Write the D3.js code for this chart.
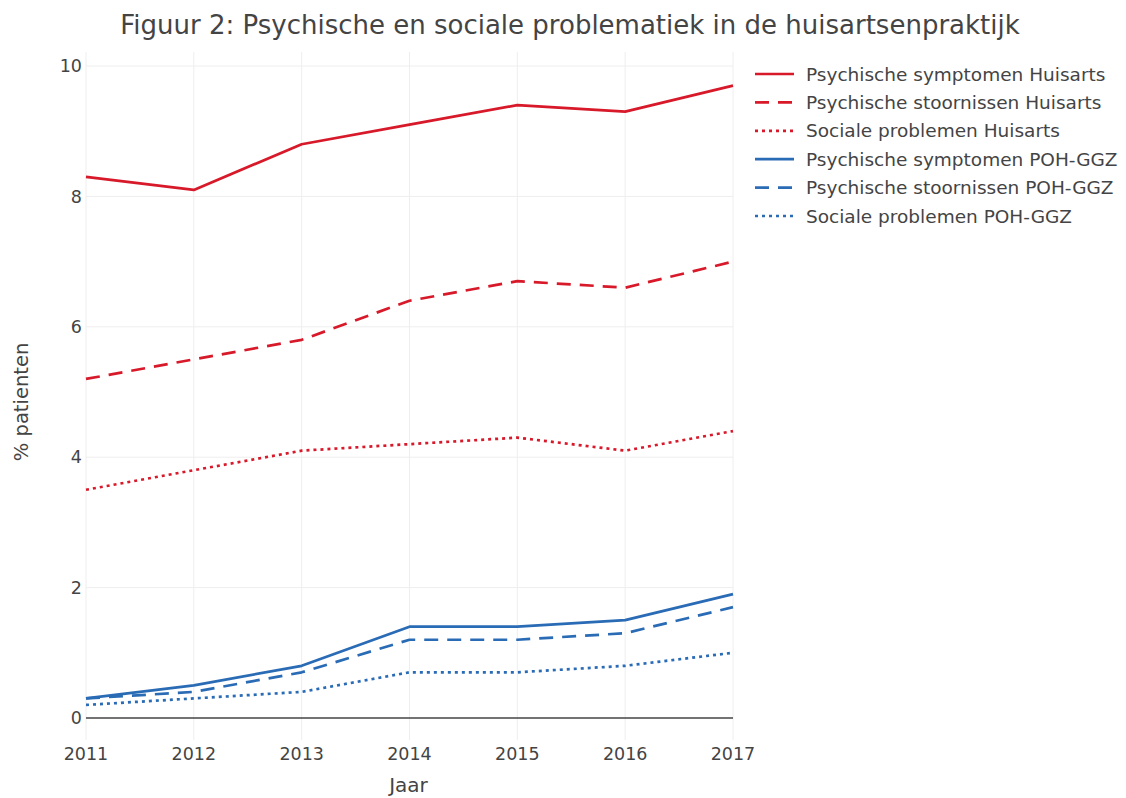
<!DOCTYPE html>
<html><head><meta charset="utf-8">
<script src="https://cdn.jsdelivr.net/npm/d3@7"></script>
<style>body{margin:0;background:#fff;} svg text{font-family:"DejaVu Sans",Verdana,sans-serif;fill:#444;}</style>
</head><body>
<svg id="c" width="1126" height="798"></svg>
<script>
const years = [2011, 2012, 2013, 2014, 2015, 2016, 2017];
const yTicks = [0, 2, 4, 6, 8, 10];
const seriesNames = [
  "Psychische symptomen Huisarts",
  "Psychische stoornissen Huisarts",
  "Sociale problemen Huisarts",
  "Psychische symptomen POH-GGZ",
  "Psychische stoornissen POH-GGZ",
  "Sociale problemen POH-GGZ"
];
const symptomenHuisarts = [8.3, 8.1, 8.8, 9.1, 9.4, 9.3, 9.7];
const stoornissenHuisarts = [5.2, 5.5, 5.8, 6.4, 6.7, 6.6, 7.0];
const socialeHuisarts = [3.5, 3.8, 4.1, 4.2, 4.3, 4.1, 4.4];
const symptomenPOH = [0.3, 0.5, 0.8, 1.4, 1.4, 1.5, 1.9];
const stoornissenPOH = [0.3, 0.4, 0.7, 1.2, 1.2, 1.3, 1.7];
const socialePOH = [0.2, 0.3, 0.4, 0.7, 0.7, 0.8, 1.0];
const seriesValues = [symptomenHuisarts, stoornissenHuisarts, socialeHuisarts, symptomenPOH, stoornissenPOH, socialePOH];

const RED = "#d7192a", BLUE = "#2a6bb5";
const colors = [RED, RED, RED, BLUE, BLUE, BLUE];
const dashes = [null, "14,9", "3,4", null, "14,9", "3,4"];

const svg = d3.select("#c");
const L = 86, R = 733, T = 52, B = 740;
const x = d3.scaleLinear().domain([2011, 2017]).range([L, R]);
const y = d3.scaleLinear().domain([-0.338, 10.215]).range([B, T]);

// grid
svg.append("g").selectAll("line").data(years).join("line")
  .attr("x1", d => x(d)).attr("x2", d => x(d)).attr("y1", T).attr("y2", B)
  .attr("stroke", "#eee").attr("stroke-width", 1);
svg.append("g").selectAll("line").data(yTicks.filter(d => d !== 0)).join("line")
  .attr("x1", L).attr("x2", R).attr("y1", d => y(d)).attr("y2", d => y(d))
  .attr("stroke", "#eee").attr("stroke-width", 1);
svg.append("line").attr("x1", L).attr("x2", R).attr("y1", y(0)).attr("y2", y(0))
  .attr("stroke", "#444").attr("stroke-width", 1.5);

// axes labels
svg.append("g").selectAll("text").data(yTicks).join("text")
  .attr("x", L - 4).attr("y", d => y(d)).attr("dy", "0.36em")
  .attr("text-anchor", "end").attr("font-size", 17.5).text(d => d);
svg.append("g").selectAll("text").data(years).join("text")
  .attr("x", d => x(d)).attr("y", 760)
  .attr("text-anchor", "middle").attr("font-size", 17.5).text(d => d);

svg.append("text").attr("x", x(2014) - 1).attr("y", 792).attr("text-anchor", "middle")
  .attr("font-size", 20).text("Jaar");
svg.append("text").attr("transform", `translate(28,${(y(0)+y(10))/2 + 10}) rotate(-90)`)
  .attr("text-anchor", "middle").attr("font-size", 19.5).text("% patienten");
svg.append("text").attr("x", 570).attr("y", 34).attr("text-anchor", "middle")
  .attr("font-size", 26).text("Figuur 2: Psychische en sociale problematiek in de huisartsenpraktijk");

// lines
const line = d3.line().x((d, i) => x(years[i])).y(d => y(d));
svg.append("clipPath").attr("id", "clp").append("rect")
  .attr("x", L - 2).attr("y", T).attr("width", R - L + 4).attr("height", B - T);
svg.append("g").attr("clip-path", "url(#clp)").selectAll("path").data(seriesValues).join("path")
  .attr("d", d => line(d)).attr("fill", "none")
  .attr("stroke", (d, i) => colors[i]).attr("stroke-width", 2.7)
  .attr("stroke-dasharray", (d, i) => dashes[i]).attr("stroke-linejoin", "round");

// legend
const lg = svg.append("g").selectAll("g").data(seriesNames).join("g")
  .attr("transform", (d, i) => `translate(755,${74 + i * 28.4})`);
lg.append("line").attr("x1", 0).attr("x2", 39).attr("y1", 0).attr("y2", 0)
  .attr("stroke", (d, i) => colors[i]).attr("stroke-width", 2.7)
  .attr("stroke-dasharray", (d, i) => dashes[i]);
lg.append("text").attr("x", 51).attr("y", 0).attr("dy", "0.36em")
  .attr("font-size", 18.5).text(d => d);
</script>
</body></html>
